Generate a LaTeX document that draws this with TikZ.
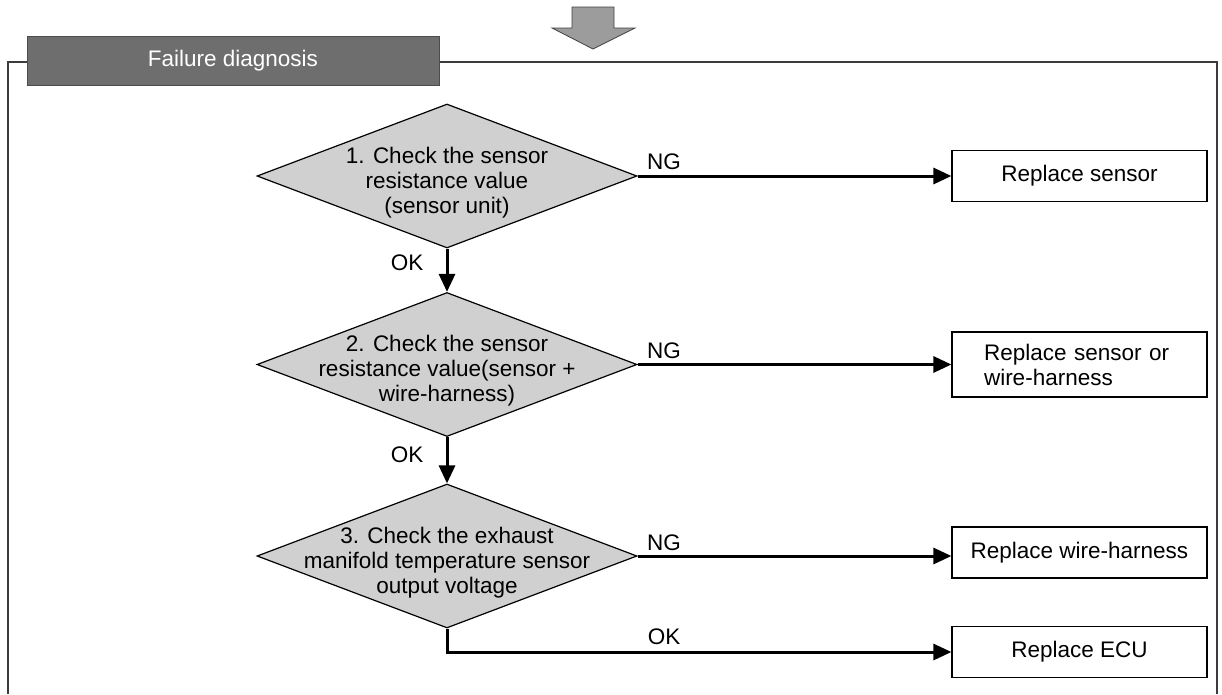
\documentclass[tikz,border=0pt]{standalone}
\usepackage{fontspec}
\setmainfont{Liberation Sans}
\usetikzlibrary{shapes.geometric,arrows.meta}
\definecolor{hdrgray}{HTML}{6E6E6E}
\definecolor{decgray}{HTML}{D0D0D0}
\definecolor{arrgray}{HTML}{9C9C9C}
\definecolor{framegray}{HTML}{3C3C3C}
\begin{document}
\begin{tikzpicture}[x=1pt,y=-1pt,
  txt/.style={font=\fontsize{22.5}{25}\selectfont, inner sep=0pt},
  decision/.style={diamond, draw=black, line width=1.2pt, fill=decgray,
    minimum width=380pt, minimum height=144pt, inner sep=0pt},
  dtext/.style={txt, align=center},
  action/.style={draw=black, line width=1.2pt, fill=white, minimum width=255pt,
    minimum height=51pt, inner sep=0pt, font=\fontsize{22.5}{25}\selectfont, align=center},
  flow/.style={line width=3pt, -{Triangle[length=18pt,width=16pt]}},
  lbl/.style={txt}]
\useasboundingbox (0,0) rectangle (1222,694);

% open frame around the diagnosis section
\draw[framegray, line width=1.6pt] (8,694) -- (8,62) -- (1217,62) -- (1217,694);

% section header
\node[fill=hdrgray, draw=black!70, line width=1pt, minimum width=412pt,
  minimum height=49pt, inner sep=0pt, text=white,
  font=\fontsize{22.5}{25}\selectfont] (hdr) at (233,60.5) {Failure diagnosis};

% block arrow entering from above
\filldraw[fill=arrgray, draw=black!75, line width=0.8pt]
  (572,7) -- (614,7) -- (614,28) -- (635,28) -- (593,49) -- (552,28) -- (572,28) -- cycle;

% decisions
\node[decision] (d1) at (447,176) {};
\node[decision] (d2) at (447,364.5) {};
\node[decision] (d3) at (447,556) {};
\node[dtext] (t1) at (447,183) {1. Check the sensor\\resistance value\\(sensor unit)};
\node[dtext] (t2) at (447,371) {2. Check the sensor\\resistance value(sensor +\\wire-harness)};
\node[dtext] (t3) at (447,563) {3. Check the exhaust\\manifold temperature sensor\\output voltage};

% actions
\node[action] (b1) at (1079.5,176) {Replace sensor};
\node[action, minimum height=65pt, text width=191pt, align=left] (b2) at (1079.5,364.5)
  {Replace sensor or\\wire-harness};
\node[action] (b3) at (1079.5,552.5) {Replace wire-harness};
\node[action] (b4) at (1079.5,652) {Replace ECU};

% connectors
\draw[flow] (d1.east) -- (d1.east -| b1.west);
\draw[flow] (d1.south) -- (d2.north);
\draw[flow] (d2.east) -- (d2.east -| b2.west);
\draw[flow] (d2.south) -- (d3.north);
\draw[flow] (d3.east) -- (d3.east -| b3.west);
\draw[flow] (d3.south) |- (b4.west);

% branch labels
\node[lbl] (ng1) at (664,162) {NG};
\node[lbl] (ng2) at (664,351) {NG};
\node[lbl] (ng3) at (664,543) {NG};
\node[lbl] (ok1) at (407,263) {OK};
\node[lbl] (ok2) at (407,455) {OK};
\node[lbl] (ok3) at (664,637) {OK};
\end{tikzpicture}
\end{document}
